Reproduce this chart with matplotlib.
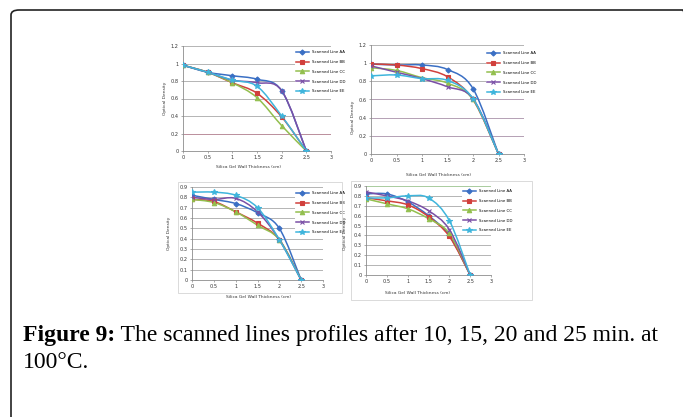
import numpy as np
import matplotlib
matplotlib.use("Agg")
import matplotlib.pyplot as plt
from matplotlib.path import Path
from matplotlib.patches import PathPatch, FancyBboxPatch, Rectangle
from matplotlib.lines import Line2D

W, H = 683, 417

thickness = [0, 0.5, 1, 1.5, 2, 2.5]
series_names = ["Scanned Line AA", "Scanned Line BB", "Scanned Line CC",
                "Scanned Line DD", "Scanned Line EE"]

# 10 min
p1_aa = [0.98, 0.90, 0.86, 0.82, 0.69, 0.0]
p1_bb = [0.98, 0.90, 0.78, 0.66, 0.39, 0.0]
p1_cc = [0.98, 0.90, 0.78, 0.61, 0.29, 0.0]
p1_dd = [0.98, 0.90, 0.81, 0.78, 0.69, 0.0]
p1_ee = [0.98, 0.90, 0.81, 0.74, 0.40, 0.0]

# 15 min
p2_aa = [0.99, 0.98, 0.98, 0.93, 0.72, 0.0]
p2_bb = [0.99, 0.98, 0.94, 0.85, 0.60, 0.0]
p2_cc = [0.95, 0.92, 0.84, 0.78, 0.60, 0.0]
p2_dd = [0.97, 0.90, 0.83, 0.74, 0.61, 0.0]
p2_ee = [0.86, 0.87, 0.83, 0.81, 0.61, 0.0]

# 20 min
p3_aa = [0.82, 0.78, 0.74, 0.65, 0.50, 0.0]
p3_bb = [0.78, 0.76, 0.66, 0.55, 0.39, 0.0]
p3_cc = [0.78, 0.75, 0.66, 0.53, 0.39, 0.0]
p3_dd = [0.80, 0.78, 0.79, 0.66, 0.39, 0.0]
p3_ee = [0.85, 0.85, 0.82, 0.70, 0.39, 0.0]

# 25 min
p4_aa = [0.82, 0.82, 0.74, 0.60, 0.40, 0.0]
p4_bb = [0.78, 0.75, 0.71, 0.59, 0.39, 0.0]
p4_cc = [0.77, 0.72, 0.67, 0.57, 0.42, 0.0]
p4_dd = [0.84, 0.80, 0.75, 0.65, 0.46, 0.0]
p4_ee = [0.78, 0.78, 0.80, 0.78, 0.55, 0.0]

colors = ["#3a6fc4", "#d1403c", "#93bf4e", "#7a4fa6", "#3fb5dc"]
markers = ["D", "s", "^", "x", "*"]
msizes = [2.6, 3.2, 3.2, 3.4, 4.0]


def px(x0, y0, x1, y1):
    return [x0 / W, 1 - y1 / H, (x1 - x0) / W, (y1 - y0) / H]


def smooth_path(x, y):
    pts = np.column_stack([x, y]).astype(float)
    ext = np.vstack([pts[0], pts, pts[-1]])
    verts = [pts[0]]
    codes = [Path.MOVETO]
    for i in range(len(pts) - 1):
        p0, p1, p2, p3 = ext[i], ext[i + 1], ext[i + 2], ext[i + 3]
        c1 = p1 + (p2 - p0) / 6.0
        c2 = p2 - (p3 - p1) / 6.0
        verts += [c1, c2, p2]
        codes += [Path.CURVE4] * 3
    return Path(verts, codes)


def draw_panel(rect, data, ymax, ystep, legend_xy, grid_colors=None):
    ax = fig.add_axes(px(*rect))
    ax.set_xlim(0, 3)
    ax.set_ylim(0, ymax)
    yt = np.round(np.arange(0, ymax + 1e-9, ystep), 2)
    ax.set_yticks(yt)
    ax.set_yticklabels([("%g" % v) for v in yt])
    ax.set_xticks([0, 0.5, 1, 1.5, 2, 2.5, 3])
    ax.set_xticklabels(["0", "0.5", "1", "1.5", "2", "2.5", "3"])
    for s in ["top", "right"]:
        ax.spines[s].set_visible(False)
    for s in ["left", "bottom"]:
        ax.spines[s].set_color("#8c8c8c")
        ax.spines[s].set_linewidth(0.6)
    ax.tick_params(labelsize=3.6, length=1.5, width=0.5, colors="#8c8c8c",
                   labelcolor="#333333", pad=1.5)
    for i, v in enumerate(yt[1:]):
        c = "#a8a8a8"
        if grid_colors is not None:
            c = grid_colors[i]
        ax.axhline(v, color=c, lw=0.6, zorder=0)
    handles = []
    for k, ys in enumerate(data):
        patch = PathPatch(smooth_path(thickness, ys), facecolor="none",
                          edgecolor=colors[k], lw=1.1, zorder=2)
        ax.add_patch(patch)
        ax.plot(thickness, ys, ls="none", marker=markers[k], ms=msizes[k],
                color=colors[k], mew=0.8, zorder=3)
        handles.append(Line2D([], [], color=colors[k], lw=1.1,
                              marker=markers[k], ms=msizes[k], mew=0.8))
    leg = ax.legend(handles, series_names, loc="upper left",
                    bbox_to_anchor=(legend_xy[0] / W, 1 - legend_xy[1] / H),
                    bbox_transform=fig.transFigure, fontsize=2.8,
                    frameon=True, facecolor="white", edgecolor="none",
                    framealpha=1, handlelength=3.2, labelspacing=1.5,
                    borderpad=0.3, handletextpad=0.8)
    leg.set_zorder(5)
    return ax


fig = plt.figure(figsize=(W / 100, H / 100), dpi=100)

# outer frame, cut by the image edge at right and bottom
frame = FancyBboxPatch((11 / W, 1 - 440 / H), 680 / W, 430 / H,
                       boxstyle="round,pad=0,rounding_size=0.012",
                       transform=fig.transFigure, facecolor="none",
                       edgecolor="#222222", lw=1.2, clip_on=False)
fig.patches.append(frame)

# light borders of the bottom two chart images
for (x0, y0, x1, y1) in [(178, 182, 342, 293), (351, 181, 532, 300)]:
    fig.patches.append(Rectangle((x0 / W, 1 - y1 / H), (x1 - x0) / W,
                                 (y1 - y0) / H, transform=fig.transFigure,
                                 facecolor="none", edgecolor="#d4d4d4",
                                 lw=0.6))

draw_panel((183, 46, 331, 151), [p1_aa, p1_bb, p1_cc, p1_dd, p1_ee],
           1.2, 0.2, (293, 47),
           grid_colors=["#b07c8c", "#a8a8a8", "#a8a8a8", "#a8a8a8", "#a8a8a8", "#a8a8a8"])
draw_panel((371, 45, 524, 154), [p2_aa, p2_bb, p2_cc, p2_dd, p2_ee],
           1.2, 0.2, (484, 48),
           grid_colors=["#a890a8", "#a890a8", "#a890a8", "#a8a8a8", "#a8a8a8", "#a8a8a8"])
draw_panel((192, 187, 323, 280), [p3_aa, p3_bb, p3_cc, p3_dd, p3_ee],
           0.9, 0.1, (293, 188))
draw_panel((366, 186, 491, 275), [p4_aa, p4_bb, p4_cc, p4_dd, p4_ee],
           0.9, 0.1, (460, 186),
           grid_colors=["#a8a8a8"] * 8 + ["#9bc48e"])

lab = dict(fontsize=3.2, color="#333333", ha="center", va="center")
fig.text(165 / W, 1 - 98 / H, "Optical Density", rotation=90, **lab)
fig.text(248 / W, 1 - 167 / H, "Silica Gel Wall Thickness (cm)", **lab)
fig.text(353 / W, 1 - 117 / H, "Optical Density", rotation=90, **lab)
fig.text(438 / W, 1 - 175 / H, "Silica Gel Wall Thickness (cm)", **lab)
fig.text(169 / W, 1 - 233 / H, "Optical Density", rotation=90, **lab)
fig.text(258 / W, 1 - 297 / H, "Silica Gel Wall Thickness (cm)", **lab)
fig.text(345 / W, 1 - 233 / H, "Optical Density", rotation=90, **lab)
fig.text(417 / W, 1 - 293 / H, "Silica Gel Wall Thickness (cm)", **lab)

# caption
cap_size = 14.0
cap_font = "Liberation Serif"
renderer = fig.canvas.get_renderer()
t1 = fig.text(23 / W, 1 - 341 / H, "Figure 9:", fontsize=cap_size,
              fontweight="bold", family=cap_font, va="baseline")
bb = t1.get_window_extent(renderer)
t2 = fig.text(bb.x1 / W, 1 - 341 / H,
              " The scanned lines profiles after 10, 15, 20 and 25 min. at",
              fontsize=cap_size, family=cap_font, va="baseline")
bb2 = t2.get_window_extent(renderer)
# stretch to the justified width of the reference line
scale = (662 - 23) / (bb2.x1 - bb.x0)
t1.set_fontsize(cap_size * scale)
t2.set_fontsize(cap_size * scale)
bb = t1.get_window_extent(renderer)
t2.set_x(bb.x1 / W)
fig.text(23 / W, 1 - 368 / H, "100°C.", fontsize=cap_size * scale,
         family=cap_font, va="baseline")

fig.savefig("out.png", dpi=100)
